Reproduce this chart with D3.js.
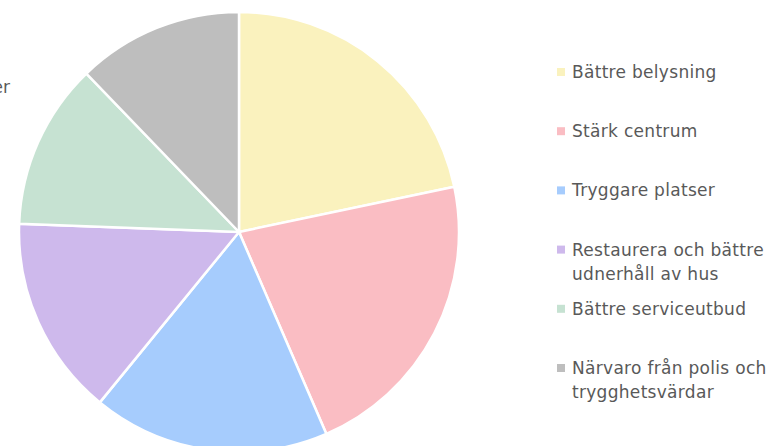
<!DOCTYPE html>
<html>
<head>
<meta charset="utf-8">
<script src="https://cdn.jsdelivr.net/npm/d3@7"></script>
<style>
  body { margin: 0; background: #fff; }
  svg { display: block; }
</style>
</head>
<body>
<div id="chart"></div>
<script>
// andel svar per åtgärd (uppskattat från bilden)
const categories = [
    "Bättre belysning",
    "Stärk centrum",
    "Tryggare platser",
    "Restaurera och bättre udnerhåll av hus",
    "Bättre serviceutbud",
    "Närvaro från polis och trygghetsvärdar"
];
const values = [21.7, 21.8, 17.4, 14.7, 12.2, 12.2];
const colors = ["#faf2be", "#fabdc3", "#a6ccfd", "#ceb9ec", "#c6e2d2", "#bebebe"];
// legendtexter radbrutna som i originalet
const legendLines = [
    ["Bättre belysning"],
    ["Stärk centrum"],
    ["Tryggare platser"],
    ["Restaurera och bättre", "udnerhåll av hus"],
    ["Bättre serviceutbud"],
    ["Närvaro från polis och", "trygghetsvärdar"]
];

const width = 776, height = 446;
const cx = 239, cy = 232, radius = 220;

const svg = d3.select("#chart")
    .append("svg")
    .attr("width", width)
    .attr("height", height);

const data = categories.map((c, i) => ({ name: c, value: values[i], color: colors[i], lines: legendLines[i] }));

const pie = d3.pie().value(d => d.value).sort(null);
const arc = d3.arc().innerRadius(0).outerRadius(radius);

svg.append("g")
    .attr("transform", `translate(${cx}, ${cy})`)
    .selectAll("path")
    .data(pie(data))
    .enter()
    .append("path")
    .attr("d", arc)
    .attr("fill", d => d.data.color)
    .attr("stroke", "#fff")
    .attr("stroke-width", 2.5);

// avklippt rubrik längst till vänster
svg.append("text")
    .attr("x", 10)
    .attr("y", 93)
    .attr("text-anchor", "end")
    .style("font-family", "DejaVu Sans")
    .style("font-size", "17px")
    .style("fill", "#595959")
    .text("er");

const legendY = d3.scalePoint()
    .domain(categories)
    .range([72, 368]);

const legend = svg.selectAll(".legend-item")
    .data(data)
    .enter()
    .append("g")
    .attr("class", "legend-item")
    .attr("transform", d => `translate(557, ${legendY(d.name)})`);

legend.append("rect")
    .attr("x", 0)
    .attr("y", -4)
    .attr("width", 8)
    .attr("height", 8)
    .attr("fill", d => d.color);

legend.append("text")
    .style("font-family", "DejaVu Sans")
    .style("font-size", "17px")
    .style("letter-spacing", "0.3px")
    .style("fill", "#595959")
    .selectAll("tspan")
    .data(d => d.lines)
    .enter()
    .append("tspan")
    .attr("x", 15)
    .attr("y", (d, i) => i * 24)
    .attr("dy", "0.35em")
    .text(d => d);
</script>
</body>
</html>
